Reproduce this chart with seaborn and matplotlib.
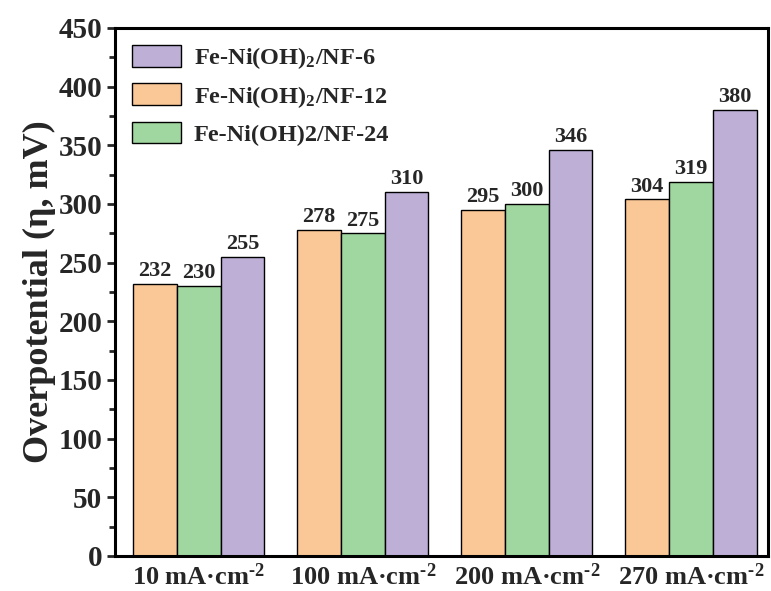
import numpy as np
import pandas as pd
import matplotlib
matplotlib.use("Agg")
import matplotlib.pyplot as plt
import seaborn as sns
from matplotlib.ticker import MultipleLocator

categories = ["10 mA·cm$^{\\text{-2}}$", "100 mA·cm$^{\\text{-2}}$",
              "200 mA·cm$^{\\text{-2}}$", "270 mA·cm$^{\\text{-2}}$"]
series_names = ["Fe-Ni(OH)$_2$/NF-12", "Fe-Ni(OH)2/NF-24", "Fe-Ni(OH)$_2$/NF-6"]
nf12 = [232, 278, 295, 304]
nf24 = [230, 275, 300, 319]
nf6 = [255, 310, 346, 380]
colors = ["#FAC896", "#A0D7A0", "#BEAFD7"]

sns.set_theme(style="ticks")
plt.rcParams["font.family"] = ["Liberation Serif", "DejaVu Serif"]
plt.rcParams["font.weight"] = "bold"
plt.rcParams["mathtext.fontset"] = "custom"
plt.rcParams["mathtext.rm"] = "Liberation Serif:bold"
plt.rcParams["mathtext.it"] = "Liberation Serif:bold"
plt.rcParams["mathtext.bf"] = "Liberation Serif:bold"

df = pd.DataFrame({
    "cat": categories * 3,
    "series": [series_names[0]] * 4 + [series_names[1]] * 4 + [series_names[2]] * 4,
    "val": nf12 + nf24 + nf6,
})

fig = plt.figure(figsize=(7.71, 5.91), dpi=100)
ax = fig.add_axes([115 / 771, 1 - 556 / 591, (768 - 115) / 771, (556 - 28) / 591])

sns.barplot(data=df, x="cat", y="val", hue="series", order=categories,
            hue_order=series_names, palette=colors, edgecolor="black",
            linewidth=1.0, width=0.8, saturation=1, ax=ax)

for c in ax.containers:
    ax.bar_label(c, fmt="%d", padding=2, fontsize=16, fontweight="bold")

ax.set_ylim(0, 450)
ax.set_xlim(-0.51, 3.47)
ax.yaxis.set_major_locator(MultipleLocator(50))
ax.yaxis.set_minor_locator(MultipleLocator(25))
ax.tick_params(axis="y", which="major", direction="out", length=6, width=2, labelsize=21, pad=3)
ax.tick_params(axis="y", which="minor", direction="out", length=4, width=2)
ax.tick_params(axis="x", which="both", length=0, labelsize=19, pad=5)
for lab in ax.get_xticklabels() + ax.get_yticklabels():
    lab.set_fontweight("bold")
for s in ax.spines.values():
    s.set_visible(True)
    s.set_linewidth(2.2)
    s.set_color("black")

ax.set_xlabel("")
ax.set_ylabel("Overpotential (η, mV)", fontsize=26, fontweight="bold", labelpad=2)

handles, labels = ax.get_legend_handles_labels()
order = [2, 0, 1]
leg = ax.legend([handles[i] for i in order], [labels[i] for i in order],
                loc="upper left", frameon=False,
                handlelength=2.0, handleheight=1.0, borderaxespad=0.3,
                labelspacing=0.5, handletextpad=0.55, prop={"weight": "bold", "size": 17.5})

fig.savefig("out.png", dpi=100)
